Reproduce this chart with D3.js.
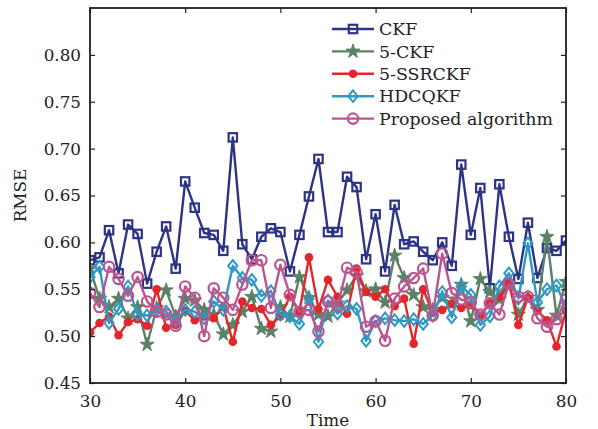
<!DOCTYPE html>
<html>
<head>
<meta charset="utf-8">
<script src="https://cdn.jsdelivr.net/npm/d3@7/dist/d3.min.js"></script>
<style>
  html, body { margin: 0; padding: 0; background: #fff; }
  svg { display: block; }
  text { font-family: "DejaVu Serif", "Liberation Serif", serif; fill: #222; }
</style>
</head>
<body>
<svg id="chart" width="598" height="429"></svg>
<script>
// Time steps
const time = [30,31,32,33,34,35,36,37,38,39,40,41,42,43,44,45,46,47,48,49,50,
              51,52,53,54,55,56,57,58,59,60,61,62,63,64,65,66,67,68,69,70,
              71,72,73,74,75,76,77,78,79,80];

// RMSE per filter
const ckf = [0.581,0.584,0.613,0.567,0.619,0.609,0.556,0.590,0.617,0.572,0.665,
             0.637,0.610,0.608,0.591,0.712,0.598,0.582,0.606,0.615,0.611,
             0.569,0.608,0.649,0.689,0.611,0.611,0.670,0.659,0.582,0.630,
             0.569,0.640,0.598,0.601,0.590,0.581,0.600,0.575,0.683,0.608,
             0.658,0.551,0.662,0.606,0.561,0.621,0.562,0.594,0.591,0.602];

const ckf5 = [0.572,0.540,0.531,0.540,0.519,0.531,0.491,0.530,0.549,0.521,0.540,
              0.538,0.528,0.523,0.502,0.512,0.526,0.542,0.508,0.505,0.531,
              0.521,0.563,0.541,0.523,0.521,0.535,0.549,0.564,0.548,0.550,
              0.536,0.586,0.562,0.544,0.531,0.528,0.541,0.535,0.555,0.516,
              0.561,0.547,0.539,0.555,0.523,0.541,0.528,0.606,0.522,0.558];

const ssrckf5 = [0.504,0.514,0.521,0.501,0.515,0.518,0.511,0.550,0.509,0.512,0.527,
                 0.517,0.521,0.519,0.531,0.494,0.537,0.530,0.529,0.512,0.521,
                 0.542,0.526,0.584,0.529,0.560,0.542,0.524,0.572,0.547,0.542,
                 0.550,0.532,0.540,0.492,0.550,0.525,0.528,0.534,0.530,0.533,
                 0.522,0.535,0.542,0.558,0.512,0.541,0.527,0.517,0.489,0.527];

const hdcqkf = [0.563,0.574,0.514,0.529,0.553,0.523,0.522,0.528,0.526,0.516,0.528,
                0.526,0.519,0.537,0.528,0.575,0.562,0.560,0.543,0.548,0.523,
                0.521,0.513,0.540,0.494,0.538,0.524,0.532,0.529,0.495,0.516,
                0.519,0.517,0.516,0.518,0.513,0.522,0.547,0.520,0.553,0.544,
                0.512,0.521,0.553,0.567,0.540,0.599,0.536,0.550,0.554,0.531];

const proposed = [0.546,0.531,0.574,0.561,0.543,0.563,0.537,0.526,0.523,0.511,0.553,
                  0.541,0.500,0.551,0.541,0.528,0.555,0.581,0.581,0.530,0.576,
                  0.544,0.526,0.528,0.505,0.537,0.532,0.573,0.568,0.510,0.516,
                  0.495,0.540,0.553,0.562,0.572,0.522,0.588,0.546,0.539,0.536,
                  0.523,0.535,0.523,0.556,0.542,0.542,0.519,0.510,0.518,0.539];

const seriesNames = ["CKF", "5-CKF", "5-SSRCKF", "HDCQKF", "Proposed algorithm"];
const xTicks = [30, 40, 50, 60, 70, 80];
const yTicks = [0.45, 0.50, 0.55, 0.60, 0.65, 0.70, 0.75, 0.80];

const series = [
  { name: seriesNames[0], values: ckf,      color: "#2d3485", marker: "square" },
  { name: seriesNames[1], values: ckf5,     color: "#5b8266", marker: "star" },
  { name: seriesNames[2], values: ssrckf5,  color: "#e3262c", marker: "dot" },
  { name: seriesNames[3], values: hdcqkf,   color: "#2f99c5", marker: "diamond" },
  { name: seriesNames[4], values: proposed, color: "#bb5590", marker: "circle" }
];

const W = 598, H = 429;
const m = { left: 90, right: 32, top: 8, bottom: 46 };
const pw = W - m.left - m.right, ph = H - m.top - m.bottom;

const svg = d3.select("#chart");
const g = svg.append("g").attr("transform", `translate(${m.left},${m.top})`);

const x = d3.scaleLinear().domain([30, 80]).range([0, pw]);
const y = d3.scaleLinear().domain([0.45, 0.85]).range([ph, 0]);

// Marks are clipped to the axes box
svg.append("defs").append("clipPath").attr("id", "plotclip")
  .append("rect").attr("x", 0).attr("y", 0).attr("width", pw).attr("height", ph);

// Marker drawing helper
function drawMarker(sel, type, color) {
  if (type === "square") {
    sel.append("rect").attr("x", -4.2).attr("y", -4.2).attr("width", 8.4).attr("height", 8.4)
      .attr("fill", "none").attr("stroke", color).attr("stroke-width", 2.2);
  } else if (type === "star") {
    sel.append("path").attr("d", d3.symbol().type(d3.symbolStar).size(62)())
      .attr("fill", color).attr("stroke", color).attr("stroke-width", 1);
  } else if (type === "dot") {
    sel.append("circle").attr("r", 4.3).attr("fill", color);
  } else if (type === "diamond") {
    sel.append("path").attr("d", "M0,-5.8L4.6,0L0,5.8L-4.6,0Z")
      .attr("fill", "none").attr("stroke", color).attr("stroke-width", 2);
  } else if (type === "circle") {
    sel.append("circle").attr("r", 5.2)
      .attr("fill", "none").attr("stroke", color).attr("stroke-width", 2.2);
  }
}

const line = d3.line().x((d, i) => x(time[i])).y(d => y(d));

const plot = g.append("g").attr("clip-path", "url(#plotclip)");
series.forEach(s => {
  const sg = plot.append("g");
  sg.append("path").datum(s.values)
    .attr("d", line).attr("fill", "none")
    .attr("stroke", s.color).attr("stroke-width", 2.4).attr("stroke-linejoin", "round");
  sg.selectAll("g.mk").data(s.values).enter().append("g")
    .attr("class", "mk")
    .attr("transform", (d, i) => `translate(${x(time[i])},${y(d)})`)
    .each(function () { drawMarker(d3.select(this), s.marker, s.color); });
});

// Frame with inward ticks on all four sides
const frameColor = "#231f20";
const axB = d3.axisBottom(x).tickValues(xTicks).tickSize(-5).tickPadding(12).tickFormat(d3.format("d"));
const axT = d3.axisTop(x).tickValues(xTicks).tickSize(-5).tickFormat("");
const axL = d3.axisLeft(y).tickValues(yTicks).tickSize(-5).tickPadding(9).tickFormat(d3.format(".2f"));
const axR = d3.axisRight(y).tickValues(yTicks).tickSize(-5).tickFormat("");

function styleAxis(a) {
  a.select(".domain").remove();
  a.selectAll(".tick line").attr("stroke", frameColor).attr("stroke-width", 1.2);
  a.selectAll(".tick text").attr("font-family", "DejaVu Serif, Liberation Serif, serif")
    .attr("font-size", 16.8).attr("fill", "#222");
}
styleAxis(g.append("g").attr("transform", `translate(0,${ph})`).call(axB));
styleAxis(g.append("g").call(axT));
styleAxis(g.append("g").call(axL));
styleAxis(g.append("g").attr("transform", `translate(${pw},0)`).call(axR));

g.append("rect").attr("x", 0).attr("y", 0).attr("width", pw).attr("height", ph)
  .attr("fill", "none").attr("stroke", frameColor).attr("stroke-width", 1.8);

// Axis titles
g.append("text").attr("x", pw / 2).attr("y", ph + 43).attr("text-anchor", "middle")
  .attr("font-size", 16.8).text("Time");
svg.append("text").attr("transform", `translate(26,${m.top + ph / 2}) rotate(-90)`)
  .attr("text-anchor", "middle").attr("font-size", 16.8).text("RMSE");

// Legend
const leg = svg.append("g").attr("transform", "translate(332,29)");
series.forEach((s, i) => {
  const row = leg.append("g").attr("transform", `translate(0,${i * 22.4})`);
  row.append("line").attr("x1", 0).attr("x2", 42).attr("y1", 0).attr("y2", 0)
    .attr("stroke", s.color).attr("stroke-width", 2.4);
  const mk = row.append("g").attr("transform", "translate(21,0)");
  drawMarker(mk, s.marker, s.color);
  row.append("text").attr("x", 47).attr("y", 0).attr("dy", "0.36em")
    .attr("font-size", 17.4).text(s.name);
});
</script>
</body>
</html>
